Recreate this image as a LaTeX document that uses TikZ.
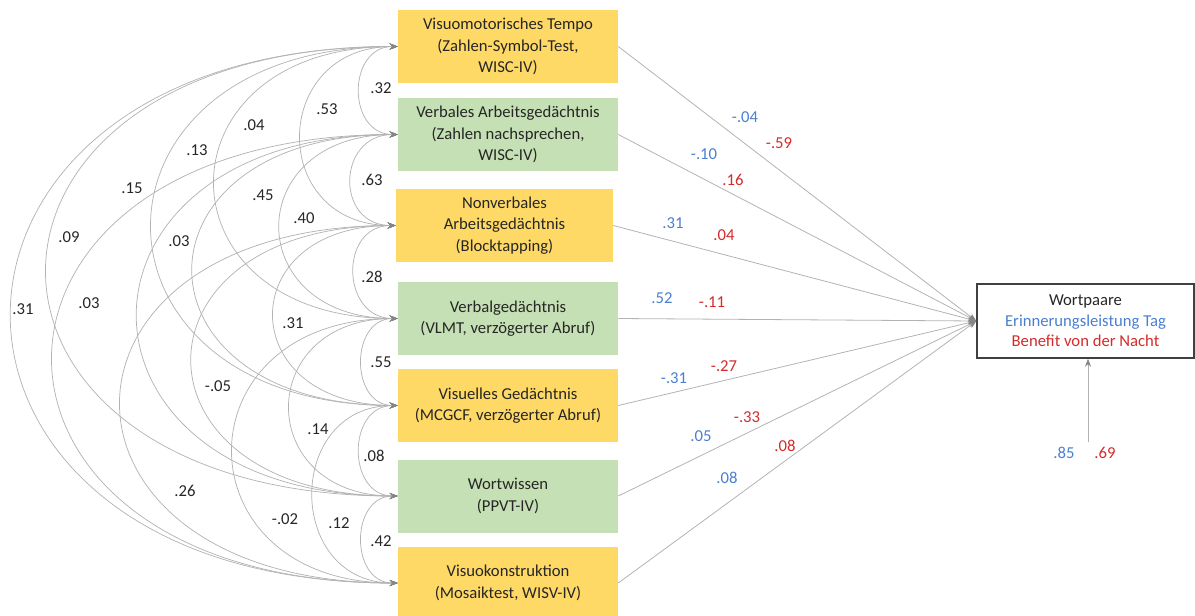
\documentclass[tikz,border=0pt]{standalone}
\usepackage{fontspec}
\setmainfont{Carlito}
\usetikzlibrary{arrows.meta,positioning}
\definecolor{boxgelb}{HTML}{FFD966}
\definecolor{boxgruen}{HTML}{C5E0B4}
\definecolor{tagblau}{HTML}{4A7FD0}
\definecolor{nachtrot}{HTML}{D42A2A}
\definecolor{linie}{HTML}{B3B3B3}
\definecolor{spitze}{HTML}{858585}
\definecolor{schrift}{HTML}{262626}

\tikzset{
  mess/.style={minimum width=165pt, minimum height=54.75pt, align=center, inner sep=2pt,
    text=schrift, font=\fontsize{12.5}{16}\selectfont},
  gelb/.style={mess, fill=boxgelb},
  gruen/.style={mess, fill=boxgruen},
  kov/.style={draw=linie, line width=0.55pt,
    {Stealth[length=6pt,width=4.5pt,color=spitze]}-{Stealth[length=6pt,width=4.5pt,color=spitze]}},
  pfad/.style={draw=linie, line width=0.6pt, -{Stealth[length=6pt,width=4.5pt,color=spitze]}},
  zahl/.style={inner sep=0pt, text=schrift, font=\fontsize{12.5}{15}\selectfont},
  blau/.style={zahl, text=tagblau},
  rot/.style={zahl, text=nachtrot},
}

\begin{document}
\begin{tikzpicture}[x=0.75pt, y=-0.75pt]
  \useasboundingbox (0,0) rectangle (1195,615);

  % Praediktoren
  \node[gelb]  (b1) at (508,46.5)  {Visuomotorisches Tempo\\(Zahlen-Symbol-Test,\\WISC-IV)};
  \node[gruen] (b2) at (508,134.5) {Verbales Arbeitsgedächtnis\\(Zahlen nachsprechen,\\WISC-IV)};
  \node[gelb, minimum width=162.75pt] (b3) at (504.5,225.5) {Nonverbales\\Arbeitsgedächtnis\\(Blocktapping)};
  \node[gruen] (b4) at (508,318.5) {Verbalgedächtnis\\(VLMT, verzögerter Abruf)};
  \node[gelb]  (b5) at (508,405.5) {Visuelles Gedächtnis\\(MCGCF, verzögerter Abruf)};
  \node[gruen] (b6) at (508,496)   {Wortwissen\\(PPVT-IV)};
  \node[gelb]  (b7) at (508,583)   {Visuokonstruktion\\(Mosaiktest, WISV-IV)};

  % Kriterium
  \node[draw=black!75, line width=1.1pt, minimum width=162.75pt, minimum height=55.5pt,
    align=center, text=schrift, font=\fontsize{12.5}{15.4}\selectfont]
    (wp) at (1085.5,321) {Wortpaare\\\textcolor{tagblau}{Erinnerungsleistung Tag}\\\textcolor{nachtrot}{Benefit von der Nacht}};
  \coordinate (fehler) at (1088,442);

  % Korrelationen
  \draw[kov] (b1.west) .. controls +(-51,0) and +(-51,0) .. (b2.west);
  \draw[kov] (b2.west) .. controls +(-61,0) and +(-61,0) .. (b3.west);
  \draw[kov] (b3.west) .. controls +(-57,0) and +(-57,0) .. (b4.west);
  \draw[kov] (b4.west) .. controls +(-48,0) and +(-48,0) .. (b5.west);
  \draw[kov] (b5.west) .. controls +(-51,0) and +(-51,0) .. (b6.west);
  \draw[kov] (b6.west) .. controls +(-48,0) and +(-48,0) .. (b7.west);
  \draw[kov] (b1.west) .. controls +(-128,0) and +(-128,0) .. (b3.west);
  \draw[kov] (b2.west) .. controls +(-157,0) and +(-157,0) .. (b4.west);
  \draw[kov] (b3.west) .. controls +(-164,0) and +(-164,0) .. (b5.west);
  \draw[kov] (b4.west) .. controls +(-144,0) and +(-144,0) .. (b6.west);
  \draw[kov] (b5.west) .. controls +(-113,0) and +(-113,0) .. (b7.west);
  \draw[kov] (b1.west) .. controls +(-244,0) and +(-244,0) .. (b4.west);
  \draw[kov] (b2.west) .. controls +(-273,0) and +(-273,0) .. (b5.west);
  \draw[kov] (b3.west) .. controls +(-273,0) and +(-273,0) .. (b6.west);
  \draw[kov] (b4.west) .. controls +(-220,0) and +(-220,0) .. (b7.west);
  \draw[kov] (b1.west) .. controls +(-328,0) and +(-328,0) .. (b5.west);
  \draw[kov] (b2.west) .. controls +(-347,0) and +(-347,0) .. (b6.west);
  \draw[kov] (b3.west) .. controls +(-368,0) and +(-368,0) .. (b7.west);
  \draw[kov] (b1.west) .. controls +(-468,0) and +(-468,0) .. (b6.west);
  \draw[kov] (b2.west) .. controls +(-460,0) and +(-460,0) .. (b7.west);
  \draw[kov] (b1.west) .. controls +(-515,0) and +(-515,0) .. (b7.west);

  \node[zahl] (k12) at (381,88)  {.32};
  \node[zahl] (k13) at (327,109) {.53};
  \node[zahl] (k14) at (254,125) {.04};
  \node[zahl] (k15) at (197,150) {.13};
  \node[zahl] (k16) at (132,188) {.15};
  \node[zahl] (k23) at (372,180) {.63};
  \node[zahl] (k24) at (263,195) {.45};
  \node[zahl] (k25) at (304,218) {.40};
  \node[zahl] (k17) at (69,237)  {.09};
  \node[zahl] (k26) at (179,241) {.03};
  \node[zahl] (k34) at (372,277) {.28};
  \node[zahl] (k1x) at (23,309)  {.31};
  \node[zahl] (k27) at (89,303)  {.03};
  \node[zahl] (k35) at (293,323) {.31};
  \node[zahl] (k45) at (381,362) {.55};
  \node[zahl] (k36) at (218,386) {-.05};
  \node[zahl] (k46) at (318,429) {.14};
  \node[zahl] (k56) at (374,456) {.08};
  \node[zahl] (k37) at (185,491) {.26};
  \node[zahl] (k47) at (285,519) {-.02};
  \node[zahl] (k57) at (339,523) {.12};
  \node[zahl] (k67) at (381,541) {.42};

  % Pfade
  \draw[pfad] (b1.east) -- (wp.west);
  \draw[pfad] (b2.east) -- (wp.west);
  \draw[pfad] (b3.east) -- (wp.west);
  \draw[pfad] (b4.east) -- (wp.west);
  \draw[pfad] (b5.east) -- (wp.west);
  \draw[pfad] (b6.east) -- (wp.west);
  \draw[pfad] (b7.east) -- (wp.west);
  \draw[pfad] (fehler) -- (fehler |- wp.south);

  \node[blau] (t1) at (745,117) {-.04};
  \node[rot]  (n1) at (779,143) {-.59};
  \node[blau] (t2) at (704,154) {-.10};
  \node[rot]  (n2) at (733,180) {.16};
  \node[blau] (t3) at (673,223) {.31};
  \node[rot]  (n3) at (724,235) {.04};
  \node[blau] (t4) at (662,298) {.52};
  \node[rot]  (n4) at (712,302) {-.11};
  \node[rot]  (n5) at (724,366) {-.27};
  \node[blau] (t5) at (674,378) {-.31};
  \node[rot]  (n6) at (747,417) {-.33};
  \node[blau] (t6) at (701,436) {.05};
  \node[rot]  (n7) at (785,446) {.08};
  \node[blau] (t7) at (727,478) {.08};
  \node[blau] (tf) at (1064,453) {.85};
  \node[rot]  (nf) at (1105,453) {.69};
\end{tikzpicture}
\end{document}
